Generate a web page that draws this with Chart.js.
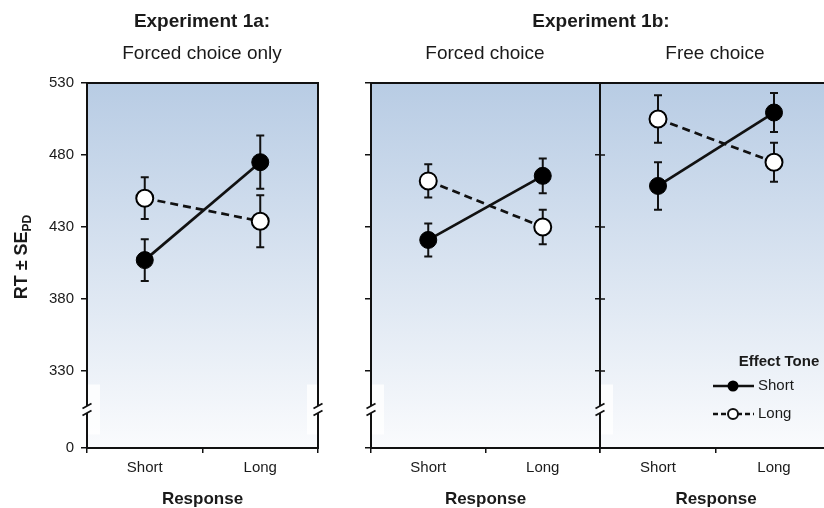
<!DOCTYPE html>
<html><head><meta charset="utf-8">
<script src="https://cdn.jsdelivr.net/npm/chart.js@4/dist/chart.umd.min.js"></script>
<style>
html,body{margin:0;padding:0;background:#fff;}
#wrap{position:relative;width:824px;height:508px;overflow:hidden;font-family:"Liberation Sans",Arial,sans-serif;color:#1a1a1a;}
canvas{position:absolute;top:0;}
.t{position:absolute;text-align:center;font-size:19px;line-height:22px;white-space:nowrap;}
.b{font-weight:bold;}
</style></head><body>
<div id="wrap">
<canvas id="c1" width="340" height="508" style="left:0"></canvas>
<canvas id="c2" width="262" height="508" style="left:340px"></canvas>
<canvas id="c3" width="252" height="508" style="left:580px"></canvas>
<div class="t b" style="left:102px;width:200px;top:10px">Experiment 1a:</div>
<div class="t" style="left:102px;width:200px;top:42px">Forced choice only</div>
<div class="t b" style="left:501px;width:200px;top:10px">Experiment 1b:</div>
<div class="t" style="left:385px;width:200px;top:42px">Forced choice</div>
<div class="t" style="left:615px;width:200px;top:42px">Free choice</div>
</div>
<script>
// ---- data ----
const categories = ['Short', 'Long'];
const seriesNames = ['Short', 'Long'];
const exp1aShortTone   = [407, 475];
const exp1aShortToneSE = [14.5, 18.5];
const exp1aLongTone    = [450, 434];
const exp1aLongToneSE  = [14.5, 18];
const exp1bForcedShortTone   = [421, 465.5];
const exp1bForcedShortToneSE = [11.5, 12];
const exp1bForcedLongTone    = [462, 430];
const exp1bForcedLongToneSE  = [11.5, 12];
const exp1bFreeShortTone   = [458.5, 509.5];
const exp1bFreeShortToneSE = [16.5, 13.5];
const exp1bFreeLongTone    = [505, 475];
const exp1bFreeLongToneSE  = [16.5, 13.5];
const yTickValues = [0, 330, 380, 430, 480, 530];

// broken axis: the "0" tick is drawn at this value position
const AXIS_FLOOR = 276.5;
const AXIS_MAX = 530;
const FONT = '"Liberation Sans", Arial, sans-serif';

const errorBars = {
  id: 'errorBars',
  beforeDatasetsDraw(chart) {
    const {ctx} = chart;
    const xs = chart.scales.x, ys = chart.scales.y;
    ctx.save();
    ctx.strokeStyle = '#111';
    ctx.lineWidth = 2;
    chart.data.datasets.forEach(ds => {
      ds.data.forEach((v, i) => {
        const x = xs.getPixelForValue(i);
        const y1 = ys.getPixelForValue(v + ds.se[i]);
        const y2 = ys.getPixelForValue(v - ds.se[i]);
        ctx.beginPath();
        ctx.moveTo(x, y1); ctx.lineTo(x, y2);
        ctx.moveTo(x - 4, y1); ctx.lineTo(x + 4, y1);
        ctx.moveTo(x - 4, y2); ctx.lineTo(x + 4, y2);
        ctx.stroke();
      });
    });
    ctx.restore();
  }
};

const decor = {
  id: 'decor',
  beforeDraw(chart, args, o) {
    const {ctx, chartArea: a} = chart;
    const ys = chart.scales.y;
    const by = ys.getPixelForValue((yTickValues[1] + AXIS_FLOOR) / 2);
    ctx.save();
    const g = ctx.createLinearGradient(0, a.top, 0, a.bottom);
    g.addColorStop(0, '#b8cce4');
    g.addColorStop(1, '#fafbfd');
    ctx.fillStyle = g;
    ctx.fillRect(a.left, a.top, a.right - a.left, a.bottom - a.top);
    ctx.fillStyle = 'rgba(255,255,255,0.8)';
    ctx.fillRect(a.left, by - 25, 13, 50);
    if (o.right) ctx.fillRect(a.right - 11, by - 25, 11, 50);
    ctx.restore();
  },
  afterDraw(chart, args, o) {
    const {ctx, chartArea: a} = chart;
    const ys = chart.scales.y;
    const by = ys.getPixelForValue((yTickValues[1] + AXIS_FLOOR) / 2);
    ctx.save();
    ctx.strokeStyle = '#111';
    ctx.lineWidth = 2;
    ctx.lineCap = 'butt';
    ctx.beginPath();
    ctx.moveTo(a.left, a.top); ctx.lineTo(a.right + (o.right ? 1 : 0), a.top);
    ctx.moveTo(a.left, a.top - 1); ctx.lineTo(a.left, a.bottom + 1);
    ctx.moveTo(a.left - 1, a.bottom); ctx.lineTo(a.right + 1, a.bottom);
    if (o.right) { ctx.moveTo(a.right, a.top - 1); ctx.lineTo(a.right, a.bottom + 1); }
    ctx.stroke();
    if (o.innerTicks) {
      ctx.lineWidth = 1.5;
      ctx.beginPath();
      ys.ticks.forEach(t => {
        const y = ys.getPixelForValue(t.value);
        ctx.moveTo(a.left, y); ctx.lineTo(a.left + 5, y);
      });
      ctx.stroke();
    }
    const brk = (x) => {
      ctx.fillStyle = '#ffffff';
      ctx.fillRect(x - 2, by - 3.5, 4, 7);
      ctx.strokeStyle = '#111';
      ctx.lineWidth = 1.8;
      ctx.beginPath();
      [-3.5, 3.5].forEach(d => {
        ctx.moveTo(x - 4.5, by + d + 2.5);
        ctx.lineTo(x + 4.5, by + d - 2.5);
      });
      ctx.stroke();
    };
    brk(a.left);
    if (o.right) brk(a.right);

    if (o.yTitle) {
      ctx.translate(21, 257);
      ctx.rotate(-Math.PI / 2);
      const main = 'RT \u00B1 SE', sub = 'PD';
      ctx.font = 'bold 18px ' + FONT;
      const w1 = ctx.measureText(main).width;
      ctx.font = 'bold 12px ' + FONT;
      const w2 = ctx.measureText(sub).width;
      const x0 = -(w1 + w2) / 2;
      ctx.fillStyle = '#1a1a1a';
      ctx.textBaseline = 'alphabetic';
      ctx.textAlign = 'left';
      ctx.font = 'bold 18px ' + FONT;
      ctx.fillText(main, x0, 6);
      ctx.font = 'bold 12px ' + FONT;
      ctx.fillText(sub, x0 + w1, 9.5);
    }

    if (o.legend) {
      const ds = chart.data.datasets;
      const L = a.left;
      ctx.fillStyle = '#1a1a1a';
      ctx.textAlign = 'center';
      ctx.textBaseline = 'middle';
      ctx.font = 'bold 15px ' + FONT;
      ctx.fillText('Effect Tone', L + 179, 362);
      ctx.strokeStyle = '#111';
      ctx.lineWidth = 2.5;
      ctx.setLineDash([]);
      ctx.beginPath(); ctx.moveTo(L + 113, 386); ctx.lineTo(L + 154, 386); ctx.stroke();
      ctx.fillStyle = '#000';
      ctx.beginPath(); ctx.arc(L + 133, 386, 5.5, 0, Math.PI * 2); ctx.fill();
      ctx.setLineDash([5, 3]);
      ctx.beginPath(); ctx.moveTo(L + 113, 414); ctx.lineTo(L + 154, 414); ctx.stroke();
      ctx.setLineDash([]);
      ctx.fillStyle = '#fff';
      ctx.lineWidth = 2;
      ctx.beginPath(); ctx.arc(L + 133, 414, 5, 0, Math.PI * 2); ctx.fill(); ctx.stroke();
      ctx.fillStyle = '#1a1a1a';
      ctx.textAlign = 'left';
      ctx.font = '15px ' + FONT;
      ctx.fillText(ds[0].label, L + 158, 386);
      ctx.fillText(ds[1].label, L + 158, 414);
    }
    ctx.restore();
  }
};

function makePanel(id, shortVals, shortSE, longVals, longSE, p) {
  return new Chart(document.getElementById(id), {
    type: 'line',
    data: {
      labels: categories,
      datasets: [
        { label: seriesNames[0], data: shortVals, se: shortSE,
          borderColor: '#111', borderWidth: 2.7,
          pointRadius: 8.5, pointHoverRadius: 8.5,
          pointBackgroundColor: '#000', pointBorderColor: '#000', pointBorderWidth: 1 },
        { label: seriesNames[1], data: longVals, se: longSE,
          borderColor: '#111', borderWidth: 2.7, borderDash: [8, 5],
          pointRadius: 8.5, pointHoverRadius: 8.5,
          pointBackgroundColor: '#fff', pointBorderColor: '#000', pointBorderWidth: 2 }
      ]
    },
    options: {
      responsive: false,
      animation: false,
      events: [],
      layout: { autoPadding: false, padding: { top: 83, right: p.padRight, left: 0, bottom: 0 } },
      plugins: {
        legend: { display: false },
        tooltip: { enabled: false },
        decor: p.decor
      },
      scales: {
        x: {
          type: 'category',
          offset: true,
          grid: { offset: true, drawOnChartArea: false, drawTicks: true, tickLength: 5, color: '#111', lineWidth: 1.5 },
          border: { display: false },
          ticks: { color: '#1a1a1a', font: { family: FONT, size: 15 }, padding: 6, maxRotation: 0 },
          title: { display: true, text: 'Response', color: '#1a1a1a',
                   font: { family: FONT, size: 17, weight: 'bold' }, padding: { top: 0, bottom: -2 } },
          afterFit: s => { s.height = 60; s.paddingLeft = 0; s.paddingRight = 0; }
        },
        y: {
          min: AXIS_FLOOR, max: AXIS_MAX,
          afterBuildTicks: s => { s.ticks = yTickValues.map(v => ({ value: v === 0 ? AXIS_FLOOR : v })); },
          grid: { drawOnChartArea: false, drawTicks: true, tickLength: p.tickLen, color: '#111', lineWidth: 1.5 },
          border: { display: false },
          ticks: { display: p.yLabels, color: '#1a1a1a', font: { family: FONT, size: 15 }, padding: 7,
                   callback: v => (v === AXIS_FLOOR ? '0' : String(v)) },
          afterFit: s => { s.width = p.yWidth; s.paddingTop = 0; s.paddingBottom = 0; }
        }
      }
    },
    plugins: [decor, errorBars]
  });
}

makePanel('c1', exp1aShortTone, exp1aShortToneSE, exp1aLongTone, exp1aLongToneSE,
  { padRight: 22, yWidth: 87, tickLen: 6, yLabels: true, decor: { right: true, yTitle: true } });
makePanel('c2', exp1bForcedShortTone, exp1bForcedShortToneSE, exp1bForcedLongTone, exp1bForcedLongToneSE,
  { padRight: 2, yWidth: 31, tickLen: 6, yLabels: false, decor: {} });
makePanel('c3', exp1bFreeShortTone, exp1bFreeShortToneSE, exp1bFreeLongTone, exp1bFreeLongToneSE,
  { padRight: 0, yWidth: 20, tickLen: 5, yLabels: false, decor: { innerTicks: true, legend: true } });
</script>
</body></html>
